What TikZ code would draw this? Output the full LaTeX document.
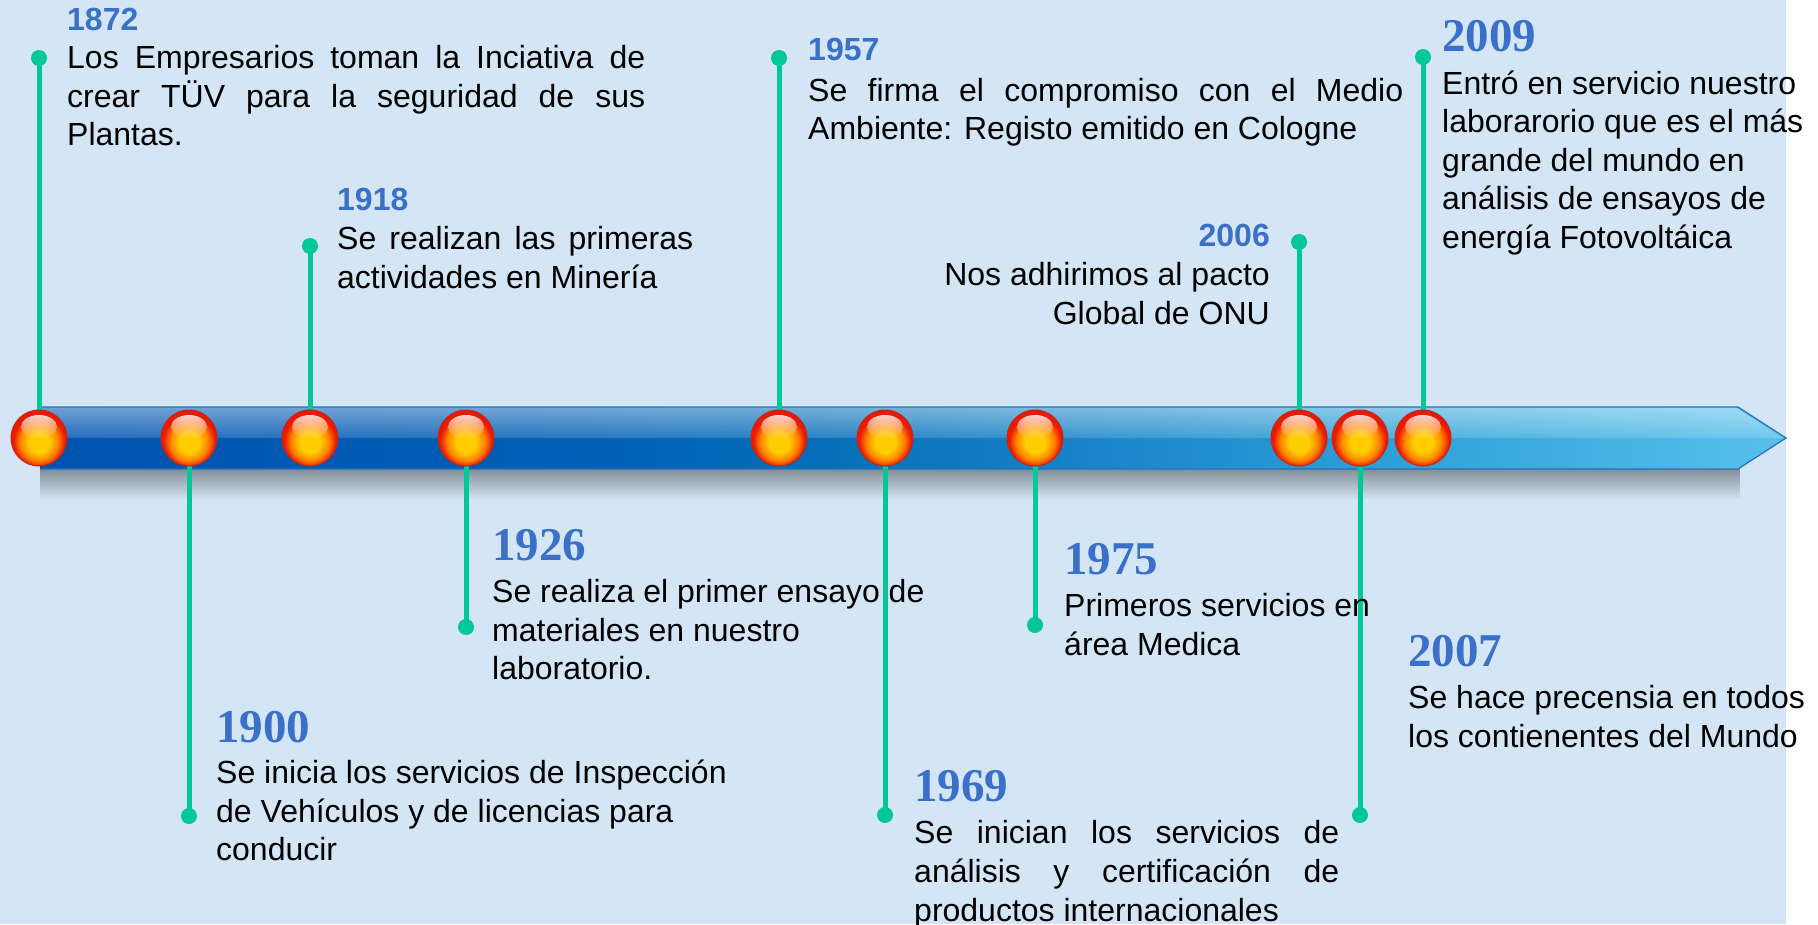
\documentclass[tikz,border=0pt]{standalone}
\usepackage{fontspec}
\setmainfont{Liberation Sans}
\newfontfamily\serifyear{Liberation Serif}
\usetikzlibrary{fadings}
\definecolor{bg}{RGB}{212,230,245}
\definecolor{stemgreen}{RGB}{0,200,150}
\definecolor{yearblue}{RGB}{58,112,200}
\definecolor{barA}{RGB}{0,82,175}
\definecolor{barB}{RGB}{0,95,180}
\definecolor{barC}{RGB}{5,110,185}
\definecolor{barD}{RGB}{30,140,205}
\definecolor{barE}{RGB}{50,165,218}
\definecolor{barF}{RGB}{88,192,235}
\definecolor{baredge}{RGB}{35,115,185}
\definecolor{ballY}{RGB}{255,205,0}
\definecolor{ballO}{RGB}{255,130,0}
\definecolor{ballR}{RGB}{235,25,0}
\definecolor{ballrim}{RGB}{190,40,30}
\definecolor{ballhl}{RGB}{255,225,215}
\pgfdeclarehorizontalshading{barsh}{100bp}{color(0bp)=(barA); color(25bp)=(barA); color(40bp)=(barB); color(47.5bp)=(barC); color(57.5bp)=(barD); color(65bp)=(barE); color(75bp)=(barF); color(100bp)=(barF)}
\pgfdeclareradialshading{ballsh}{\pgfpoint{0bp}{-5bp}}{color(0bp)=(ballY); color(9bp)=(ballY); color(17bp)=(ballO); color(23bp)=(ballR); color(50bp)=(ballR)}
\tikzfading[name=glossfade, top color=transparent!55, bottom color=transparent!85]
\tikzfading[name=shadowfade, top color=transparent!62, bottom color=transparent!100]
\tikzfading[name=hlfade, top color=transparent!5, bottom color=transparent!100]
\pgfdeclarelayer{bglayer}
\pgfdeclarelayer{stemlayer}
\pgfsetlayers{bglayer,stemlayer,main}
\newcommand{\jline}[2]{\makebox[#1][s]{#2}}
\begin{document}
\begin{tikzpicture}[x=1pt,y=-1pt,
  yearsans/.style={font=\fontsize{32}{38.6}\selectfont\bfseries, text=yearblue, inner sep=0pt, anchor=base west},
  yearserif/.style={font=\fontsize{47}{56}\selectfont\serifyear\bfseries, text=yearblue, inner sep=0pt, anchor=base west},
  body/.style={font=\fontsize{32}{38.6}\selectfont, text=black, inner sep=0pt, align=left, anchor=base west},
  stemline/.style={draw=stemgreen, line width=5pt},
  dotnode/.style={circle, fill=stemgreen, minimum size=16pt, inner sep=0pt},
  ballnode/.style={circle, minimum size=56pt, inner sep=0pt, shading=ballsh, draw=ballrim, line width=1pt}]
\useasboundingbox (0,0) rectangle (1818,924);

\begin{pgfonlayer}{bglayer}
  \fill[white] (0,0) rectangle (1818,924);
  \fill[bg] (0,0) rectangle (1786,924);
  % shadow
  \fill[black, path fading=shadowfade] (40,469) rectangle (1740,500);
  % bar
  \path[shading=barsh] (40,407) -- (1738,407) -- (1786,438) -- (1738,469) -- (40,469) -- cycle;
  \fill[white, path fading=glossfade] (40,407) -- (1738,407) -- (1786,438) -- (40,438) -- cycle;
  \draw[baredge, line width=1.2pt] (40,407) -- (1738,407) -- (1786,438) -- (1738,469) -- (40,469);
\end{pgfonlayer}

% balls
\foreach \i/\xx in {1/39,2/189,3/310,4/466,5/779,6/885,7/1035,8/1299,9/1360,10/1423}{
  \node[ballnode] (b\i) at (\xx,438) {};
  \fill[ballhl, path fading=hlfade] (\xx,427) ellipse [x radius=18, y radius=12];
}

% dots
\node[dotnode] (d1) at (39,58) {};
\node[dotnode] (d2) at (189,816) {};
\node[dotnode] (d3) at (310,246) {};
\node[dotnode] (d4) at (466,627) {};
\node[dotnode] (d5) at (779,58) {};
\node[dotnode] (d6) at (885,815) {};
\node[dotnode] (d7) at (1035,625) {};
\node[dotnode] (d8) at (1299,242) {};
\node[dotnode] (d9) at (1360,815) {};
\node[dotnode] (d10) at (1423,57) {};

\begin{pgfonlayer}{stemlayer}
  \foreach \i in {1,...,10}{
    \draw[stemline] (b\i.center) -- (d\i.center);
  }
\end{pgfonlayer}

% texts (body nodes anchored at the baseline of their last line)
\node[yearsans] (y1872) at (67,30) {1872};
\node[body] (t1872) at (67,145.7) {\jline{578pt}{Los Empresarios toman la Inciativa de}\\\jline{578pt}{crear TÜV para la seguridad de sus}\\Plantas.};

\node[yearsans] (y1918) at (337,210.5) {1918};
\node[body] (t1918) at (337,288) {\jline{356pt}{Se realizan las primeras}\\actividades en Minería};

\node[yearsans] (y1957) at (808,60.5) {1957};
\node[body] (t1957) at (808,139.6) {\jline{595pt}{Se firma el compromiso con el Medio}\\Ambiente: Registo emitido en Cologne};

\node[yearsans, anchor=base east] (y2006) at (1270,246.5) {2006};
\node[body, align=right, anchor=base east] (t2006) at (1270,324) {Nos adhirimos al pacto\\Global de ONU};

\node[yearserif] (y2009) at (1442,51) {2009};
\node[body] (t2009) at (1442,248.4) {Entró en servicio nuestro\\laborarorio que es el más\\grande del mundo en\\análisis de ensayos de\\energía Fotovoltáica};

\node[yearserif] (y1926) at (492,560) {1926};
\node[body] (t1926) at (492,679.7) {Se realiza el primer ensayo de\\materiales en nuestro\\laboratorio.};

\node[yearserif] (y1900) at (216,742) {1900};
\node[body] (t1900) at (216,860.7) {Se inicia los servicios de Inspección\\de Vehículos y de licencias para\\conducir};

\node[yearserif] (y1969) at (914,801) {1969};
\node[body] (t1969) at (914,921) {\jline{425pt}{Se inician los servicios de}\\\jline{425pt}{análisis y certificación de}\\productos internacionales};

\node[yearserif] (y1975) at (1064,574) {1975};
\node[body] (t1975) at (1064,655) {Primeros servicios en\\área Medica};

\node[yearserif] (y2007) at (1408,666) {2007};
\node[body] (t2007) at (1408,747) {Se hace precensia en todos\\los contienentes del Mundo};
\end{tikzpicture}
\end{document}
